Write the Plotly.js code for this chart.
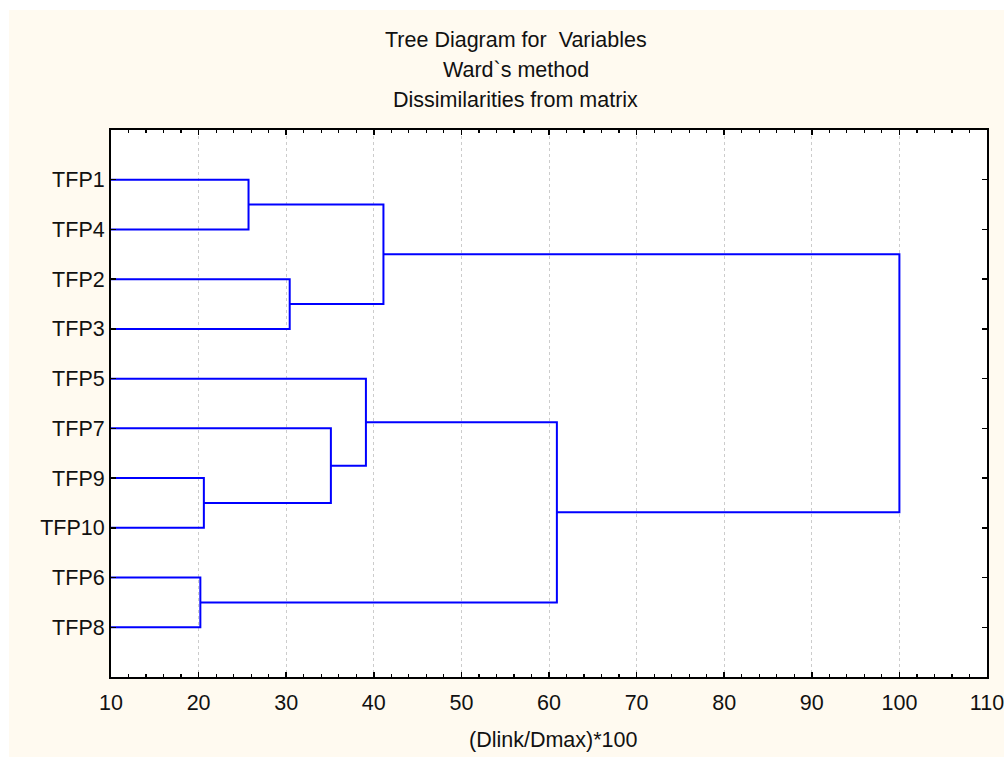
<!DOCTYPE html>
<html>
<head>
<meta charset="utf-8">
<script src="https://cdn.plot.ly/plotly-3.0.1.min.js"></script>
<style>
  html, body { margin: 0; padding: 0; background: #ffffff; }
  #chart { position: absolute; left: 9px; top: 10px; width: 995px; height: 747px; }
</style>
</head>
<body>
<div id="chart"></div>
<script>
// Leaf order, top to bottom
const leaves = ['TFP1', 'TFP4', 'TFP2', 'TFP3', 'TFP5', 'TFP7', 'TFP9', 'TFP10', 'TFP6', 'TFP8'];
// Linkage steps (cluster name, joined children, linkage distance)
const mergeNames  = ['C1', 'C2', 'C3', 'C4', 'C5', 'C6', 'C7', 'C8', 'C9'];
const mergeLeft   = ['TFP1', 'TFP2', 'C1', 'TFP9', 'TFP6', 'TFP7', 'TFP5', 'C7', 'C3'];
const mergeRight  = ['TFP4', 'TFP3', 'C2', 'TFP10', 'TFP8', 'C4', 'C6', 'C5', 'C8'];
const mergeHeight = [25.7, 30.4, 41.1, 20.6, 20.2, 35.1, 39.1, 60.9, 100.0];
const leafHeight = 10;

const titleLines = ['Tree Diagram for  Variables', 'Ward`s method', 'Dissimilarities from matrix'];
const xTitle = '(Dlink/Dmax)*100';

// node positions
const pos = {};
leaves.forEach((n, i) => { pos[n] = { y: i + 1, h: leafHeight }; });
const xs = [], ys = [];
mergeNames.forEach((m, i) => {
  const a = pos[mergeLeft[i]], b = pos[mergeRight[i]], h = mergeHeight[i];
  xs.push(a.h, h, h, b.h, null);
  ys.push(a.y, a.y, b.y, b.y, null);
  pos[m] = { y: (a.y + b.y) / 2, h: h };
});

const FONT = 'Liberation Sans, Arial, sans-serif';
const FS = 21.5;

const trace = {
  x: xs, y: ys, type: 'scatter', mode: 'lines',
  line: { color: '#0000ff', width: 2 },
  hoverinfo: 'skip', showlegend: false
};

const titleY = [1.1645, 1.1097, 1.0548];
const annotations = titleLines.map((t, i) => ({
  text: t, xref: 'paper', yref: 'paper', x: 0.4623, y: titleY[i],
  xanchor: 'center', yanchor: 'middle', showarrow: false,
  font: { family: FONT, size: FS, color: '#111111' }
}));
annotations.push({
  text: xTitle, xref: 'paper', yref: 'paper', x: 0.5057, y: -0.1152,
  xanchor: 'center', yanchor: 'middle', showarrow: false,
  font: { family: FONT, size: FS, color: '#111111' }
});

const layout = {
  width: 995, height: 747,
  margin: { l: 102, r: 17, t: 120, b: 80, pad: 0 },
  paper_bgcolor: '#fffaf0',
  plot_bgcolor: '#ffffff',
  font: { family: FONT, size: FS, color: '#111111' },
  showlegend: false,
  annotations: annotations,
  xaxis: {
    range: [10, 110], autorange: false,
    tickmode: 'linear', tick0: 10, dtick: 10,
    ticks: 'inside', ticklen: 5, tickwidth: 1.5, tickcolor: '#000',
    minor: { tickmode: 'linear', tick0: 10, dtick: 2, ticks: 'inside', ticklen: 3, tickwidth: 1.2, tickcolor: '#000', showgrid: false },
    showline: true, linecolor: '#000', linewidth: 2, mirror: 'ticks',
    showgrid: true, gridcolor: '#cccccc', griddash: 'dot', gridwidth: 1,
    zeroline: false,
    ticklabelstandoff: 5,
    ticklabeloverflow: 'allow',
    tickfont: { family: FONT, size: FS, color: '#111111' }
  },
  yaxis: {
    range: [11, 0], autorange: false,
    tickmode: 'array', tickvals: leaves.map((n, i) => i + 1), ticktext: leaves,
    ticks: 'inside', ticklen: 5, tickwidth: 1.5, tickcolor: '#000',
    showline: true, linecolor: '#000', linewidth: 2, mirror: 'ticks',
    showgrid: false, zeroline: false,
    ticklabelstandoff: 0,
    tickfont: { family: FONT, size: FS, color: '#111111' }
  }
};

Plotly.newPlot('chart', [trace], layout, { displayModeBar: false, staticPlot: true });
</script>
</body>
</html>
